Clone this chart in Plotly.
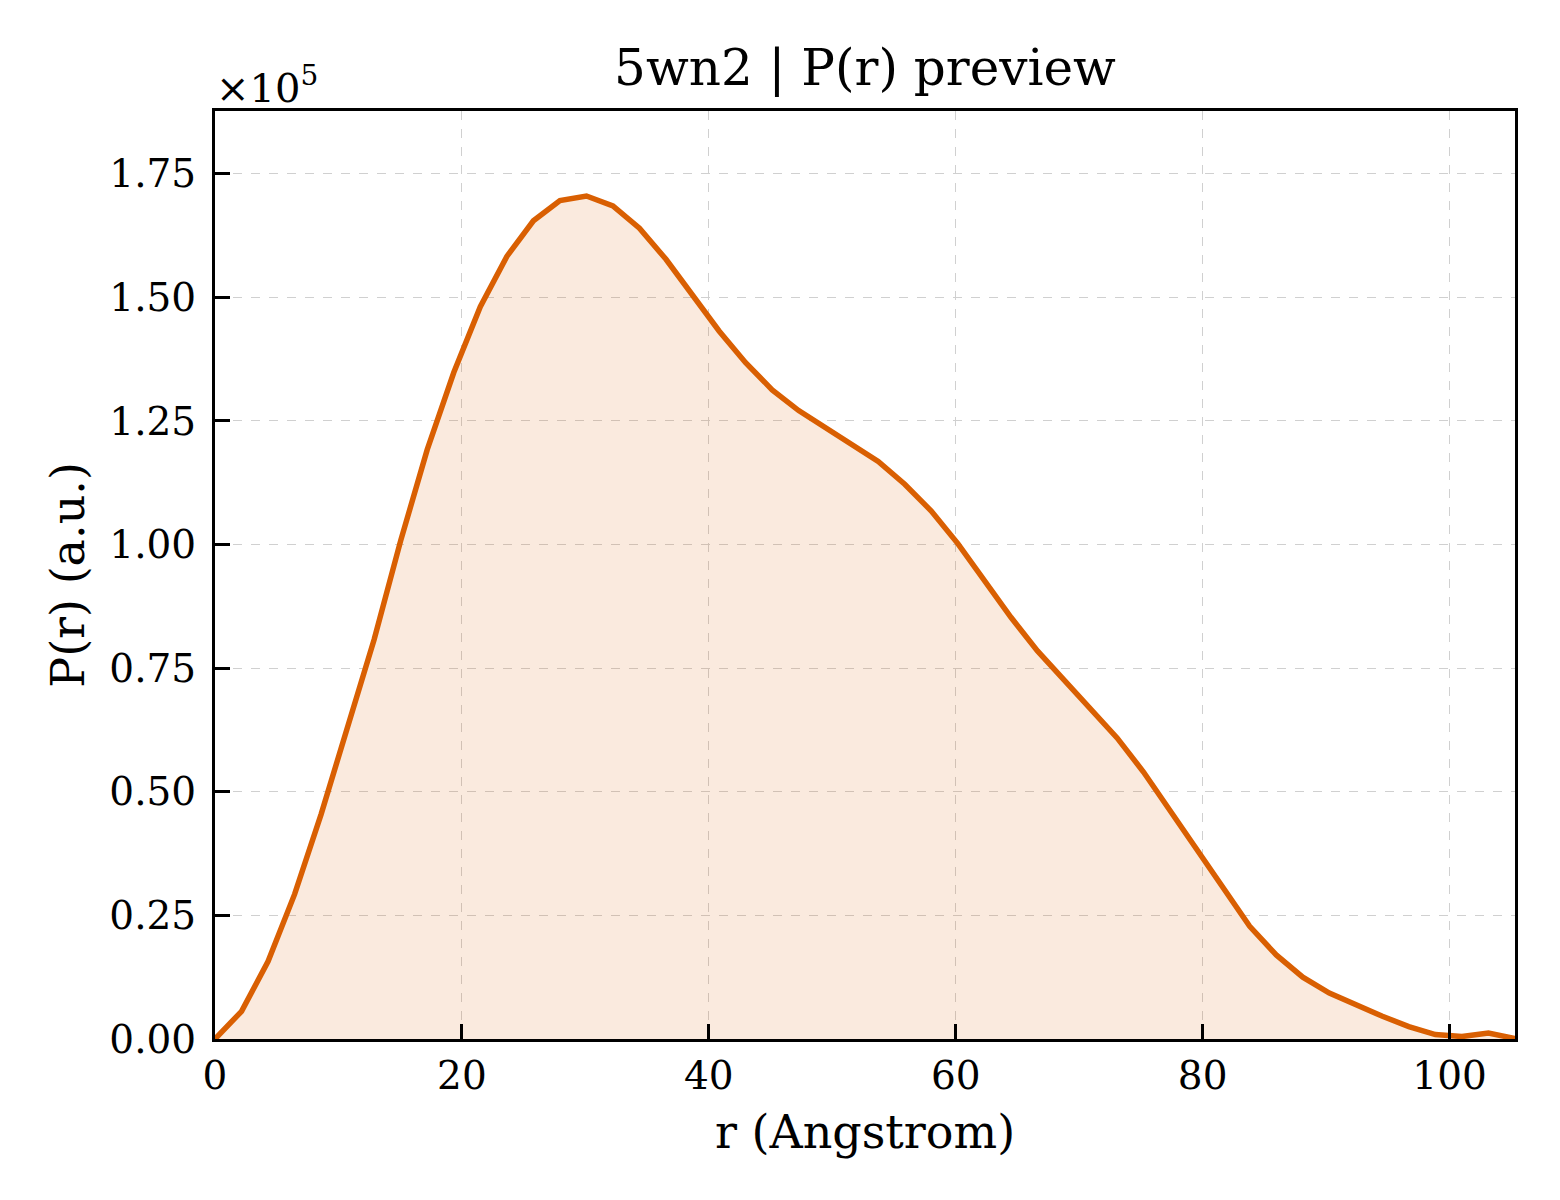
import plotly.graph_objects as go

r_values = [0.00, 2.15, 4.30, 6.45, 8.60, 10.74, 12.89, 15.04, 17.19, 19.34,
            21.49, 23.64, 25.79, 27.94, 30.09, 32.23, 34.38, 36.53, 38.68, 40.83,
            42.98, 45.13, 47.28, 49.43, 51.58, 53.72, 55.87, 58.02, 60.17, 62.32,
            64.47, 66.62, 68.77, 70.92, 73.07, 75.21, 77.36, 79.51, 81.66, 83.81,
            85.96, 88.11, 90.26, 92.41, 94.56, 96.70, 98.85, 101.00, 103.15, 105.30]
pr_e5 = [0.000, 0.056, 0.157, 0.293, 0.455, 0.628, 0.808, 1.008, 1.192, 1.348,
         1.481, 1.583, 1.655, 1.696, 1.705, 1.685, 1.640, 1.577, 1.505, 1.432,
         1.368, 1.313, 1.271, 1.236, 1.204, 1.168, 1.122, 1.068, 1.002, 0.928,
         0.853, 0.785, 0.727, 0.668, 0.609, 0.540, 0.462, 0.385, 0.304, 0.228,
         0.170, 0.125, 0.093, 0.069, 0.046, 0.025, 0.009, 0.005, 0.012, 0.001]
pr_values = [v * 1e5 for v in pr_e5]

y_ticks = [0, 25000, 50000, 75000, 100000, 125000, 150000, 175000]
y_tick_labels = ["0.00", "0.25", "0.50", "0.75", "1.00", "1.25", "1.50", "1.75"]
x_ticks = [0, 20, 40, 60, 80, 100]

FONT = "DejaVu Serif"
ORANGE = "#D95F02"

fig = go.Figure()
fig.add_trace(go.Scatter(
    x=r_values, y=pr_values, mode="lines",
    line=dict(color=ORANGE, width=5.5),
    fill="tozeroy", fillcolor="rgba(217,95,2,0.13)",
    showlegend=False,
))

axis_common = dict(
    showline=True, linecolor="black", linewidth=3, mirror=True,
    ticks="inside", ticklen=15, tickwidth=3, tickcolor="black",
    showgrid=True, gridcolor="#d0d0d0", gridwidth=1.3, griddash="dash",
    zeroline=False,
    tickfont=dict(family=FONT, size=39, color="black"),
)

fig.update_xaxes(
    range=[0, 105.3], tickvals=x_ticks,
    title=dict(text="r (Angstrom)", font=dict(family=FONT, size=46, color="black"), standoff=20),
    **axis_common,
)
fig.update_yaxes(
    range=[0, 187700], tickvals=y_ticks, ticktext=y_tick_labels,
    ticklabelstandoff=8,
    title=dict(text="P(r) (a.u.)", font=dict(family=FONT, size=46, color="black"), standoff=11),
    **axis_common,
)

# scale factor shown above the y axis, like matplotlib's offset text
fig.add_annotation(
    text="×10<sup>5</sup>", xref="paper", yref="paper", x=0, y=1.0,
    xanchor="left", yanchor="bottom", showarrow=False, yshift=-2, xshift=-1,
    font=dict(family=FONT, size=40, color="black"),
)

fig.update_layout(
    width=1552, height=1192,
    margin=dict(l=207, r=45, t=103, b=161),
    plot_bgcolor="white", paper_bgcolor="white",
    title=dict(text="5wn2 | P(r) preview", x=0.5522, xanchor="center",
               y=0.9497, yanchor="middle",
               font=dict(family=FONT, size=50, color="black")),
)

fig.write_html("out.html")
